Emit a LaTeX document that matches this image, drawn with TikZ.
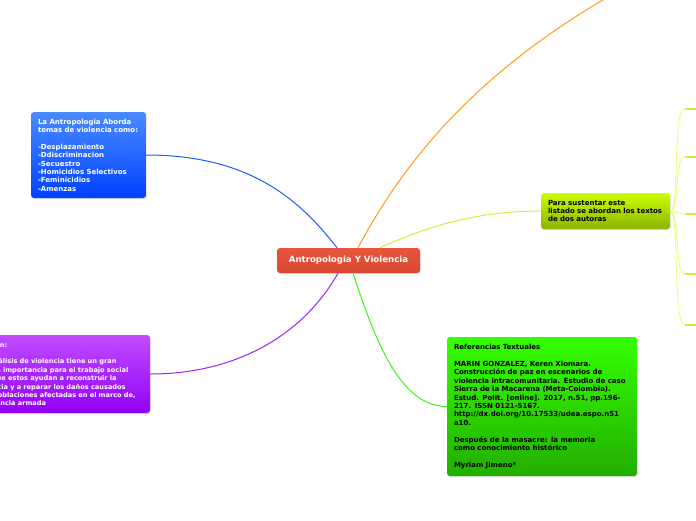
\documentclass[tikz,border=0pt]{standalone}
\usepackage{fontspec}
\setmainfont{DejaVu Sans}
\usepackage{tikz}
\usetikzlibrary{shadows}

\definecolor{rojotema}{HTML}{E8553E}
\definecolor{rojobajo}{HTML}{D8472F}
\definecolor{azularriba}{HTML}{4A8BFF}
\definecolor{azulabajo}{HTML}{0042FF}
\definecolor{moradoarriba}{HTML}{C04DFF}
\definecolor{moradoabajo}{HTML}{9200F5}
\definecolor{verdearriba}{HTML}{35FF00}
\definecolor{verdeabajo}{HTML}{22AE00}
\definecolor{limaarriba}{HTML}{CCFF00}
\definecolor{limaabajo}{HTML}{88B400}
\definecolor{ramaazul}{HTML}{1A5CFF}
\definecolor{ramanaranja}{HTML}{FF9A1A}
\definecolor{ramalima}{HTML}{CCF23A}
\definecolor{ramamorado}{HTML}{A020F0}
\definecolor{ramaverde}{HTML}{44F019}
\definecolor{ramaclara}{HTML}{E2FF7A}

\begin{document}
\begin{tikzpicture}[
x=1pt, y=-1pt,
ramabox/.style={rounded corners=3pt, align=left, inner xsep=7pt, inner ysep=0pt,
  font=\fontsize{7}{8.4}\selectfont\bfseries,
  drop shadow={shadow xshift=0.6pt, shadow yshift=-1.2pt, opacity=0.25}},
rama/.style={line width=1pt}
]
\useasboundingbox (0,0) rectangle (696,520);
\clip (0,0) rectangle (696,520);

\node[ramabox, align=center, text=white, font=\fontsize{8.6}{10}\selectfont\bfseries,
  minimum width=143pt, minimum height=25pt, top color=rojotema, bottom color=rojobajo]
  (tema) at (348.5,260.5) {Antropologia Y Violencia};

\node[ramabox, text=white, text width=101pt, minimum height=86pt,
  top color=azularriba, bottom color=azulabajo] (abordaje) at (88.5,155)
  {La Antropologia Aborda\\temas de violencia como:\\[8.4pt]-Desplazamiento\\-Ddiscriminacion\\-Secuestro\\-Homicidios Selectivos\\-Feminicidios\\-Amenzas};

\node[ramabox, text=white, text width=178.7pt, minimum height=78pt,
  font=\fontsize{6.6}{8.4}\selectfont\bfseries,
  top color=moradoarriba, bottom color=moradoabajo] (opinion) at (53.65,374)
  {Conclusión:\\[8.4pt]Así, el análisis de violencia tiene un gran\\impacto e importancia para el trabajo social\\puesto que estos ayudan a reconstruir la\\convivencia y a reparar los daños causados\\a estas poblaciones afectadas en el marco de,\\esta violencia armada};

\node[ramabox, text width=176pt, minimum height=139pt,
  top color=verdearriba, bottom color=verdeabajo] (referencias) at (542,406.5)
  {Referencias Textuales\\[8.4pt]MARIN GONZALEZ, Keren Xiomara.\\Construcción de paz en escenarios de\\violencia intracomunitaria. Estudio de caso\\Sierra de la Macarena (Meta-Colombia).\\Estud. Polit. [online]. 2017, n.51, pp.196-\\217. ISSN 0121-5167.\\http://dx.doi.org/10.17533/udea.espo.n51\\a10.\\[8.4pt]Después de la masacre: la memoria\\como conocimiento histórico\\[8.4pt]Myriam Jimeno*};

\node[ramabox, text width=115pt, minimum height=36pt,
  top color=limaarriba, bottom color=limaabajo] (sustento) at (605.5,211)
  {Para sustentar este\\listado se abordan los textos\\de dos autoras};

\coordinate (naranja) at (700,-50);
\coordinate (h1) at (685,109);
\coordinate (h2) at (685,157);
\coordinate (h3) at (685,214);
\coordinate (h4) at (685,274);
\coordinate (h5) at (685,325);

% ramas del tema
\draw[rama, ramaazul] ([xshift=-11.5pt]tema.north) .. controls (300,200) and (250,155) .. (abordaje.east);
\draw[rama, ramanaranja] ([xshift=9.5pt]tema.north) .. controls (410,150) and (500,40) .. (naranja);
\draw[rama, ramalima] ([xshift=31.5pt]tema.north) .. controls (430,225) and (480,211) .. (sustento.west);
\draw[rama, ramamorado] ([xshift=-10.5pt]tema.south) .. controls (300,340) and (230,374) .. (opinion.east);
\draw[rama, ramaverde] ([xshift=4.5pt]tema.south) .. controls (375,340) and (400,406.5) .. (referencias.west);

% ramas de los textos
\draw[ramaclara, line width=0.8pt] (sustento.east) .. controls (680,211) and (672,109) .. (h1);
\draw[ramaclara, line width=0.8pt] (sustento.east) .. controls (680,211) and (674,157) .. (h2);
\draw[ramaclara, line width=0.8pt] (sustento.east) .. controls (678,211) and (676,214) .. (h3);
\draw[ramaclara, line width=0.8pt] (sustento.east) .. controls (680,211) and (674,274) .. (h4);
\draw[ramaclara, line width=0.8pt] (sustento.east) .. controls (680,211) and (672,325) .. (h5);
\draw[ramalima, line width=2pt] (h1) -- ++(15,0);
\draw[ramalima, line width=2pt] (h2) -- ++(15,0);
\draw[ramalima, line width=2pt] (h3) -- ++(15,0);
\draw[ramalima, line width=2pt] (h4) -- ++(15,0);
\draw[ramalima, line width=2pt] (h5) -- ++(15,0);
\end{tikzpicture}
\end{document}
